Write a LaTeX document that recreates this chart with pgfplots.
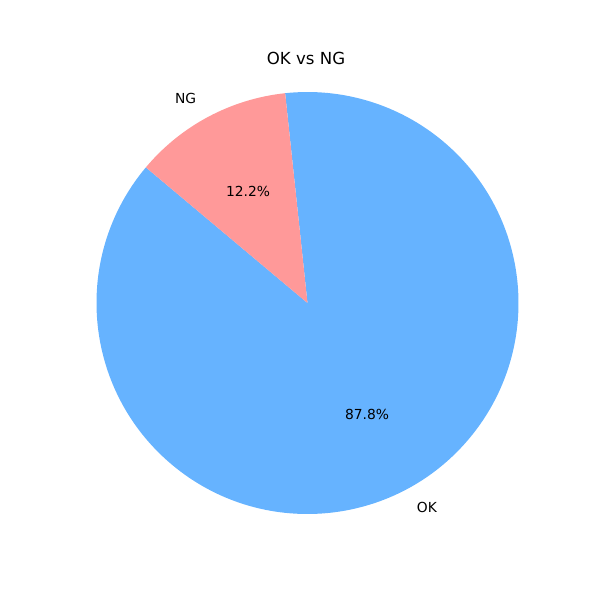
\documentclass[border=0pt]{standalone}
\usepackage{pgfplots}
\pgfplotsset{compat=1.18}
\usepackage{pgfplotstable}
\usepackage{fontspec}
\setmainfont{DejaVu Sans}

\definecolor{okblue}{HTML}{66B3FF}
\definecolor{ngred}{HTML}{FF9999}

% share in percent, in matplotlib order (counter-clockwise from 140 deg)
\pgfplotstableread{
label share
OK    87.8
NG    12.2
}\piedata

\begin{document}
\begin{tikzpicture}
  \pgfplotstablegetelem{0}{share}\of\piedata \let\okshare\pgfplotsretval
  \pgfplotstablegetelem{1}{share}\of\piedata \let\ngshare\pgfplotsretval
  \pgfmathsetmacro{\startang}{140}
  \pgfmathsetmacro{\okend}{\startang+3.6*\okshare}
  \pgfmathsetmacro{\ngend}{\okend+3.6*\ngshare}
  \pgfmathsetmacro{\okmid}{(\startang+\okend)/2}
  \pgfmathsetmacro{\ngmid}{(\okend+\ngend)/2}
  \begin{axis}[
    at={(0,0)}, anchor=south west,
    width=6in, height=6in, scale only axis,
    xmin=0, xmax=600, ymin=0, ymax=600,
    hide axis, clip=false,
    font=\fontsize{10}{12}\selectfont,
  ]
    \def\cx{307.5}\def\cy{297}\def\rr{211}
    \fill[okblue] (axis cs:\cx,\cy) -- (axis cs:{\cx+\rr*cos(\startang)},{\cy+\rr*sin(\startang)})
      arc[start angle=\startang, end angle=\okend, radius=\rr] -- cycle;
    \fill[ngred] (axis cs:\cx,\cy) -- (axis cs:{\cx+\rr*cos(\okend)},{\cy+\rr*sin(\okend)})
      arc[start angle=\okend, end angle=\ngend, radius=\rr] -- cycle;
    \node[anchor=west, inner sep=0pt] at (axis cs:{\cx+1.1*\rr*cos(\okmid)},{\cy+1.1*\rr*sin(\okmid)}) {OK};
    \node[anchor=east, inner sep=0pt] at (axis cs:{\cx+1.1*\rr*cos(\ngmid)-2},{\cy+1.1*\rr*sin(\ngmid)}) {NG};
    \node[inner sep=0pt] at (axis cs:{\cx+0.6*\rr*cos(\okmid)},{\cy+0.6*\rr*sin(\okmid)}) {\okshare\%};
    \node[inner sep=0pt] at (axis cs:{\cx+0.6*\rr*cos(\ngmid)},{\cy+0.6*\rr*sin(\ngmid)}) {\ngshare\%};
    \node[anchor=base, font=\fontsize{12}{14}\selectfont] at (axis cs:306,536) {OK vs NG};
  \end{axis}
  \useasboundingbox (0,0) rectangle (6in,6in);
\end{tikzpicture}
\end{document}
